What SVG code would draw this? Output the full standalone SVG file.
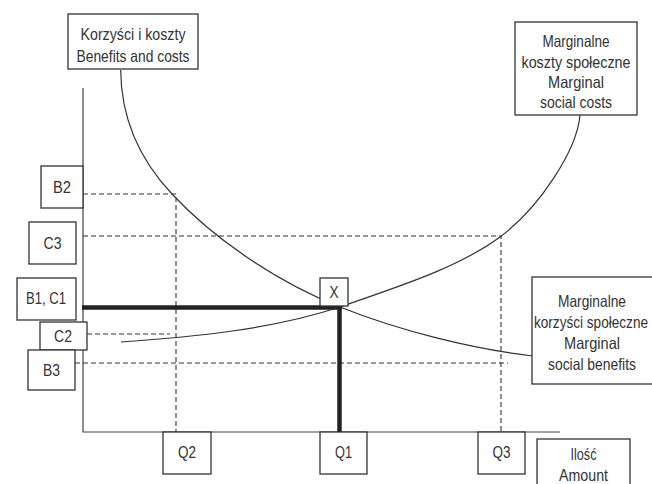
<svg xmlns="http://www.w3.org/2000/svg" width="652" height="484" viewBox="0 0 652 484">
<style>
.box{fill:#fff;stroke:#333;stroke-width:1.3}
.t{font-family:"Liberation Sans",Arial,sans-serif;font-size:16.5px;fill:#333;text-anchor:middle}
.ax{stroke:#444;stroke-width:1.2;fill:none}
.cv{stroke:#333;stroke-width:1.2;fill:none}
.ds{stroke:#333;stroke-width:1.1;fill:none;stroke-dasharray:5,3}
.tk{stroke:#222;stroke-width:4.5;fill:none}
</style>
<rect width="652" height="484" fill="#fff"/>
<g id="connectors">
<path class="ax" d="M83,88 V432 H560"/>
<path class="ds" d="M83,194 H176 V432"/>
<path class="ds" d="M83,236 H501 V432"/>
<path class="ds" d="M87,334 H170"/>
<path class="ds" d="M75,363 H508"/>
<path class="cv" d="M120.7,70 C121,120 140,160 172,194 C213,238 275,281 340,307 C400,331 473,349 533,356"/>
<path class="cv" d="M121,342 C191,337 270,330 340,307 C390,289 455,270 500,237 C540,207 577,150 580,115"/>
<path class="tk" d="M82,307.5 H341.5"/>
<path class="tk" d="M339.5,305.5 V432"/>
</g>
<g id="benefits-costs"><rect class="box" x="68" y="14" width="130" height="55"/><text class="t" x="133" y="40" textLength="105" lengthAdjust="spacingAndGlyphs">Korzyści i koszty</text><text class="t" x="133" y="62" textLength="113" lengthAdjust="spacingAndGlyphs">Benefits and costs</text></g>
<g id="msc"><rect class="box" x="515" y="22" width="122" height="93"/><text class="t" x="576" y="47" textLength="67" lengthAdjust="spacingAndGlyphs">Marginalne</text><text class="t" x="576" y="67.5" textLength="109" lengthAdjust="spacingAndGlyphs">koszty społeczne</text><text class="t" x="576" y="88" textLength="56" lengthAdjust="spacingAndGlyphs">Marginal</text><text class="t" x="576" y="108" textLength="72" lengthAdjust="spacingAndGlyphs">social costs</text></g>
<g id="msb"><rect class="box" x="532" y="277" width="122" height="107"/><text class="t" x="592" y="307" textLength="68" lengthAdjust="spacingAndGlyphs">Marginalne</text><text class="t" x="591" y="328" textLength="114" lengthAdjust="spacingAndGlyphs">korzyści społeczne</text><text class="t" x="592" y="349" textLength="56" lengthAdjust="spacingAndGlyphs">Marginal</text><text class="t" x="592" y="370" textLength="88" lengthAdjust="spacingAndGlyphs">social benefits</text></g>
<g id="b2"><rect class="box" x="41" y="166" width="42" height="42"/><text class="t" x="62" y="193" textLength="18" lengthAdjust="spacingAndGlyphs">B2</text></g>
<g id="c3"><rect class="box" x="29" y="222" width="47" height="42"/><text class="t" x="52.5" y="249" textLength="18" lengthAdjust="spacingAndGlyphs">C3</text></g>
<g id="b1c1"><rect class="box" x="17" y="278" width="59" height="42"/><text class="t" x="46" y="304" textLength="40" lengthAdjust="spacingAndGlyphs">B1, C1</text></g>
<g id="c2"><rect class="box" x="40" y="322" width="47" height="28"/><text class="t" x="63" y="342" textLength="18" lengthAdjust="spacingAndGlyphs">C2</text></g>
<g id="b3"><rect class="box" x="28" y="350" width="47" height="40"/><text class="t" x="51.5" y="376" textLength="17" lengthAdjust="spacingAndGlyphs">B3</text></g>
<g id="x"><rect class="box" x="320" y="278" width="28" height="28"/><text class="t" x="334" y="298" textLength="9" lengthAdjust="spacingAndGlyphs">X</text></g>
<g id="q2"><rect class="box" x="163" y="432" width="48" height="42"/><text class="t" x="187" y="458" textLength="18" lengthAdjust="spacingAndGlyphs">Q2</text></g>
<g id="q1"><rect class="box" x="320" y="432" width="47" height="42"/><text class="t" x="343.5" y="458" textLength="17" lengthAdjust="spacingAndGlyphs">Q1</text></g>
<g id="q3"><rect class="box" x="478" y="432" width="47" height="42"/><text class="t" x="501.5" y="458" textLength="18" lengthAdjust="spacingAndGlyphs">Q3</text></g>
<g id="amount"><rect class="box" x="537" y="439" width="93" height="52"/><text class="t" x="583.5" y="460" textLength="26" lengthAdjust="spacingAndGlyphs">Ilość</text><text class="t" x="583.5" y="481" textLength="49" lengthAdjust="spacingAndGlyphs">Amount</text></g>
</svg>
